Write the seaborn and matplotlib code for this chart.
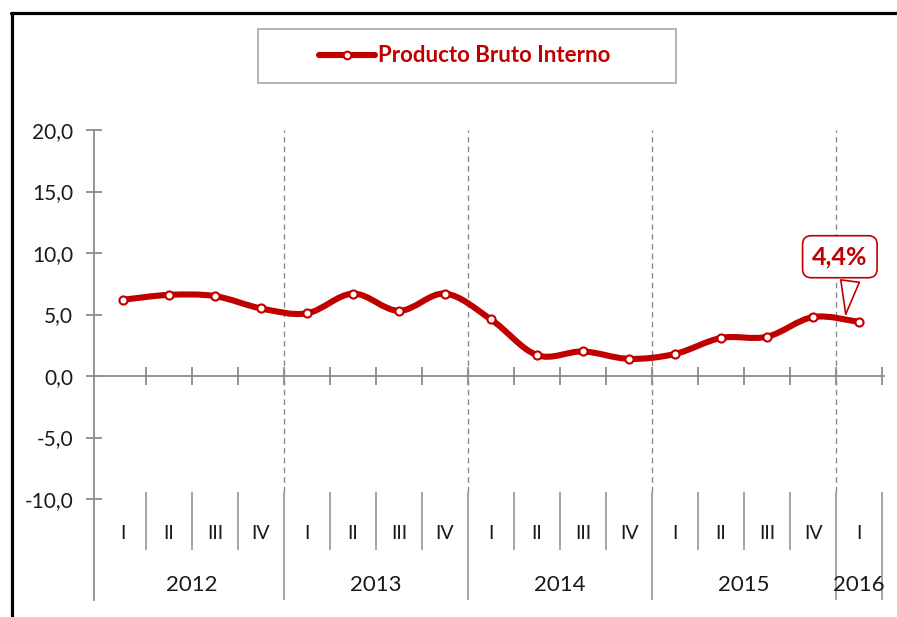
import numpy as np
import pandas as pd
import matplotlib
matplotlib.use("Agg")
import matplotlib.pyplot as plt
from matplotlib.path import Path
from matplotlib.patches import PathPatch, Rectangle
from matplotlib.lines import Line2D
import seaborn as sns

# Quarterly GDP growth (%)
quarters = ["I", "II", "III", "IV", "I", "II", "III", "IV", "I", "II", "III", "IV",
            "I", "II", "III", "IV", "I"]
years = ["2012"] * 4 + ["2013"] * 4 + ["2014"] * 4 + ["2015"] * 4 + ["2016"]
pbi = [6.2, 6.6, 6.5, 5.5, 5.1, 6.7, 5.3, 6.7, 4.6, 1.7, 2.0, 1.4,
       1.8, 3.1, 3.2, 4.8, 4.4]
series_name = "Producto Bruto Interno"
y_ticks = [-10, -5, 0, 5, 10, 15, 20]

RED = "#C00000"
GREY = "#8C8C8C"
TEXT = "#1A1A1A"

sns.set_theme(style="white")
plt.rcParams["font.family"] = ["Lato", "DejaVu Sans"]

df = pd.DataFrame({"pos": np.arange(len(pbi)), "quarter": quarters,
                   "year": years, "pbi": pbi})

fig = plt.figure(figsize=(8.97, 6.17), dpi=100)
W, H = 897, 617
ax = fig.add_axes([94 / W, 17 / H, (884 - 94) / W, (600 - 130) / H])
ax.set_xlim(-0.63, 16.54)
ax.set_ylim(-18.2, 20)

# smoothed line through the quarterly values (Bezier segments)
pts = df[["pos", "pbi"]].to_numpy(dtype=float)
n = len(pts)
verts = [pts[0]]
codes = [Path.MOVETO]
for i in range(n - 1):
    p0 = pts[max(i - 1, 0)]
    p1 = pts[i]
    p2 = pts[i + 1]
    p3 = pts[min(i + 2, n - 1)]
    c1 = p1 + (p2 - p0) / 6.0
    c2 = p2 - (p3 - p1) / 6.0
    verts += [c1, c2, p2]
    codes += [Path.CURVE4] * 3
ax.add_patch(PathPatch(Path(verts, codes), fill=False, edgecolor=RED,
                       lw=4.4, capstyle="round", joinstyle="round", zorder=3))

sns.scatterplot(data=df, x="pos", y="pbi", ax=ax, s=34, color="white",
                edgecolor=RED, linewidth=1.5, zorder=4, legend=False)

# axes styling
for side in ("top", "right"):
    ax.spines[side].set_visible(False)
ax.spines["left"].set_color(GREY)
ax.spines["left"].set_linewidth(1.3)
ax.spines["bottom"].set_position(("data", 0))
ax.spines["bottom"].set_color(GREY)
ax.spines["bottom"].set_linewidth(1.3)

ax.set_yticks(y_ticks)
ax.set_yticklabels([f"{v:.1f}".replace(".", ",") for v in y_ticks],
                   fontsize=15, color=TEXT)
ax.tick_params(axis="y", direction="inout", length=12, width=1.3,
               color=GREY, pad=9, left=True)

boundaries = np.arange(0.5, len(pbi), 1.0)
ax.set_xticks(boundaries)
ax.set_xticklabels([])
ax.tick_params(axis="x", direction="inout", length=13, width=1.3,
               color=GREY, bottom=True)
ax.set_xlabel("")
ax.set_ylabel("")
ax.grid(False)

# year separators
year_ends = df.groupby("year")["pos"].max().to_numpy() + 0.5
sep_top = -9.45
ax.vlines(year_ends[:-1], sep_top, 20, colors=GREY, lw=1,
          linestyles=(0, (4, 3)), zorder=1)
quarter_bounds = [b for b in boundaries if b not in year_ends]
ax.vlines(quarter_bounds, sep_top, -14.1, colors=GREY, lw=1.1, clip_on=False)
ax.vlines(year_ends, sep_top, -18.2, colors=GREY, lw=1.1, clip_on=False)

# category labels
for p, q in zip(df["pos"], df["quarter"]):
    ax.text(p, -12.8, q, ha="center", va="center", fontsize=14, color=TEXT)
for y, g in df.groupby("year"):
    ax.text(g["pos"].mean(), -17.0, y, ha="center", va="center",
            fontsize=16, color=TEXT)

# callout for the latest value
last = df.iloc[-1]
ax.annotate(f"{last['pbi']:.1f}%".replace(".", ","),
            xy=(last["pos"] - 0.3, last["pbi"] + 0.4),
            xytext=(last["pos"] - 0.42, 9.7),
            ha="center", va="center", fontsize=18, fontweight="bold", color=RED,
            bbox=dict(boxstyle="round,pad=0.38,rounding_size=0.35",
                      fc="white", ec=RED, lw=1.2),
            arrowprops=dict(arrowstyle="wedge,tail_width=0.75,shrink_factor=0.5",
                            fc="white", ec=RED, lw=1.2, relpos=(0.72, 0.1)),
            zorder=6)

# legend box
fig.patches.append(Rectangle((258 / W, 1 - 83 / H), (676 - 258) / W, 54 / H,
                             transform=fig.transFigure, fill=False,
                             ec="#A6A6A6", lw=1.2))
handle = Line2D([], [], color=RED, lw=4.4, marker="o", markersize=5.5,
                markerfacecolor="white", markeredgecolor=RED,
                markeredgewidth=1.5)
fig.legend(handles=[handle], labels=[series_name], loc="center",
           bbox_to_anchor=(465 / W, 1 - 56 / H), frameon=False,
           prop={"family": ["Lato", "DejaVu Sans"], "weight": "bold", "size": 16},
           labelcolor=RED, handlelength=2.5, handletextpad=0.15)

# outer frame (left and top)
fig.add_artist(Line2D([11.5 / W, 11.5 / W], [0, 1 - 13 / H], color="black",
                      lw=2.3, transform=fig.transFigure))
fig.add_artist(Line2D([10.5 / W, 1], [1 - 13 / H, 1 - 13 / H], color="black",
                      lw=2.3, transform=fig.transFigure))

fig.savefig("out.png", dpi=100, facecolor="white")
